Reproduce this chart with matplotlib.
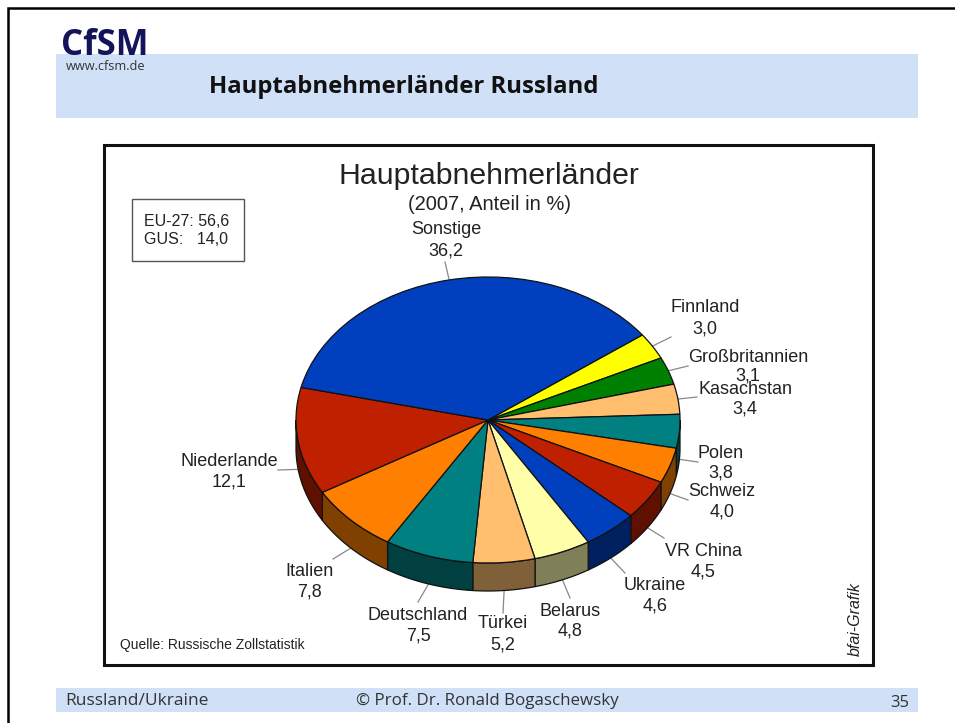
import numpy as np
import matplotlib
matplotlib.use('Agg')
import matplotlib.pyplot as plt
from matplotlib.patches import Rectangle

# Daten
laender = ['Finnland', 'Großbritannien', 'Kasachstan', 'Polen', 'Schweiz', 'VR China', 'Ukraine',
           'Belarus', 'Türkei', 'Deutschland', 'Italien', 'Niederlande', 'Sonstige']
anteile = [3.0, 3.1, 3.4, 3.8, 4.0, 4.5, 4.6, 4.8, 5.2, 7.5, 7.8, 12.1, 36.2]
anteil_text = ['3,0', '3,1', '3,4', '3,8', '4,0', '4,5', '4,6', '4,8', '5,2', '7,5', '7,8', '12,1', '36,2']

# Farben: Oberseite und Seitenwand
farben = ['#ffff00', '#008000', '#ffbf6f', '#008080', '#ff8000', '#bf2000', '#0040bf',
          '#ffffaa', '#ffbf6f', '#008080', '#ff8000', '#bf2000', '#0040bf']
wand = ['#808000', '#004000', '#806038', '#004040', '#804000', '#601000', '#002060',
        '#808058', '#806038', '#004040', '#804000', '#601000', '#002060']

# Beschriftung: Mitte x, y Name, y Wert, Ende der Linie (Pixel)
lab_x = [705, 748, 745, 721, 722, 703, 655, 570, 503, 418, 309, 229, 446]
lab_y = [308, 357, 389, 453, 491, 551, 585, 611, 624, 615, 571, 461, 229]
val_y = [329, 376, 409, 473, 512, 572, 606, 631, 645, 636, 592, 482, 251]
lin_x = [671, 688, 697, 698, 688, 664, 625, 570, 503, 418, 333, 278, 445]
lin_y = [337, 366, 397, 462, 500, 538, 573, 598, 613, 602, 559, 470, 262]

W, H = 955, 723
hub_x, hub_y = 488, 420
rx, ry = 192, 143
tiefe = 28
start = 36.5

plt.rcParams['font.family'] = ['Liberation Sans', 'DejaVu Sans']
fig = plt.figure(figsize=(W / 100, H / 100), dpi=100, facecolor='white')

# Hintergrund in Pixelkoordinaten
bg = fig.add_axes([0, 0, 1, 1])
bg.set_xlim(0, W)
bg.set_ylim(H, 0)
bg.axis('off')

# Folienrahmen und Baender
bg.plot([8, 8, W], [H, 8, 8], color='black', lw=1.8, solid_joinstyle='miter')
bg.add_patch(Rectangle((56, 54), 862, 64, color='#cfe0f7', lw=0))
bg.add_patch(Rectangle((56, 688), 862, 24, color='#cfe0f7', lw=0))

bg.text(61, 55, 'CfSM', family='Open Sans', weight='bold', fontsize=25, color='#14145a', va='baseline')
bg.text(66, 66, 'www.cfsm.de', family='Open Sans', fontsize=9.2, color='#333333', va='center')
bg.text(209, 87, 'Hauptabnehmerländer Russland', family='Open Sans', weight='bold', fontsize=17.2,
        color='#111111', va='center')
bg.text(65, 701, 'Russland/Ukraine', family='Open Sans', fontsize=12.5, color='#333333', va='center')
bg.text(356, 701, '© Prof. Dr. Ronald Bogaschewsky', family='Open Sans', fontsize=12.2, color='#333333', va='center')
bg.text(909, 703, '35', family='Open Sans', fontsize=12, color='#333333', va='center', ha='right')

# Diagrammrahmen
bg.add_patch(Rectangle((104, 145), 769, 520, fill=False, ec='#111111', lw=2.2))

bg.text(489, 176, 'Hauptabnehmerländer', fontsize=21.8, ha='center', va='center', color='#222222')
bg.text(489, 204, '(2007, Anteil in %)', fontsize=14.5, ha='center', va='center', color='#222222')

bg.add_patch(Rectangle((132, 199), 112, 62, fc='white', ec='#555555', lw=1))
bg.text(144, 222, 'EU-27: 56,6', fontsize=11.5, va='center', color='#222222')
bg.text(144, 240, 'GUS:   14,0', fontsize=11.5, va='center', color='#222222')
bg.text(120, 645, 'Quelle: Russische Zollstatistik', fontsize=10, va='center', color='#222222')
bg.text(855, 619, 'bfai-Grafik', fontsize=11.5, style='italic', rotation=90, ha='center', va='center', color='#222222')

# Kreisdiagramm, Achse so gelegt dass Radius 1 = rx / ry Pixel
mx, oben, unten = 1.1, 1.1, 1.4
pie_ax = fig.add_axes([(hub_x - mx * rx) / W, (H - hub_y - unten * ry) / H,
                       2 * mx * rx / W, (oben + unten) * ry / H])
pie_ax.patch.set_alpha(0)
pie_ax.pie(anteile, colors=farben, startangle=start, counterclock=False, radius=1,
           wedgeprops=dict(edgecolor='#111111', linewidth=0.9, zorder=3))
pie_ax.set_aspect('auto')
pie_ax.set_xlim(-mx, mx)
pie_ax.set_ylim(-unten, oben)
pie_ax.axis('off')

# Seitenwand aus den Winkeln der Segmente
winkel = start - np.cumsum([0] + anteile) * 3.6
h = tiefe / ry
for i in range(len(anteile)):
    a1 = min(winkel[i], 0)
    a2 = max(winkel[i + 1], -180)
    if a1 <= a2:
        continue
    t = np.radians(np.linspace(a1, a2, 60))
    xs = np.concatenate([np.cos(t), np.cos(t[::-1])])
    ys = np.concatenate([np.sin(t), np.sin(t[::-1]) - h])
    pie_ax.fill(xs, ys, facecolor=wand[i], edgecolor='#111111', linewidth=0.9, zorder=2)

# Linien und Beschriftung
mitte = np.radians((winkel[:-1] + winkel[1:]) / 2)
for i, name in enumerate(laender):
    px = hub_x + rx * np.cos(mitte[i])
    py = hub_y - ry * np.sin(mitte[i])
    if np.sin(mitte[i]) < 0:
        py += tiefe
    bg.plot([px, lin_x[i]], [py, lin_y[i]], color='#888888', lw=0.9)
    bg.text(lab_x[i], lab_y[i], name, fontsize=13, ha='center', va='center', color='#222222')
    bg.text(lab_x[i], val_y[i], anteil_text[i], fontsize=13, ha='center', va='center', color='#222222')

fig.savefig('out.png', dpi=100)
